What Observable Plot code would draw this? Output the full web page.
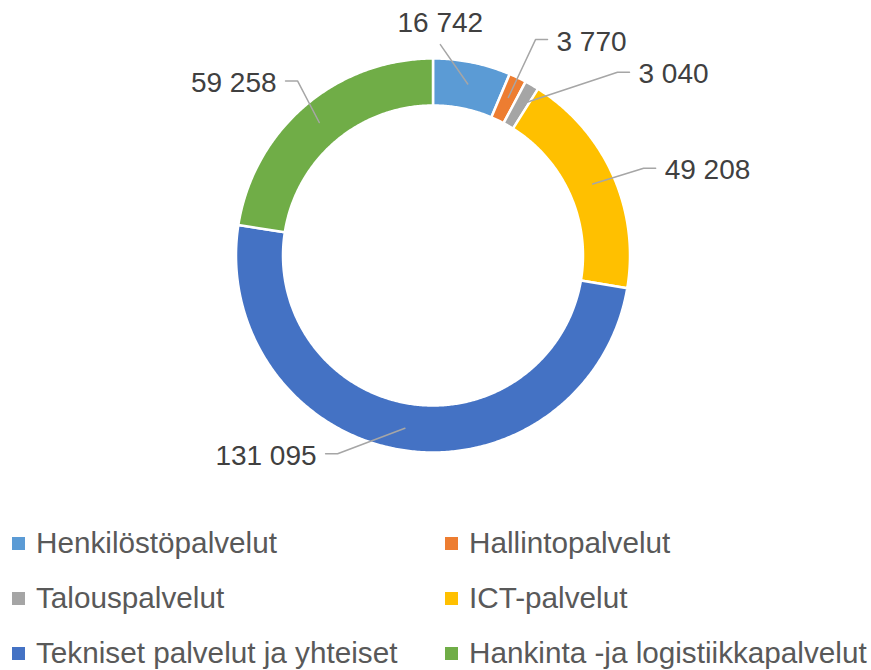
<!DOCTYPE html>
<html><head><meta charset="utf-8">
<script src="https://cdn.jsdelivr.net/npm/d3@7"></script>
<script src="https://cdn.jsdelivr.net/npm/@observablehq/plot@0.6"></script>
<style>
body{margin:0;background:#fff;font-family:"Liberation Sans",Arial,sans-serif;}
#chart svg{display:block}
.legend{display:grid;grid-template-columns:433px 426px;grid-auto-rows:55px;padding:15.5px 0 0 12px;}
.item{display:flex;align-items:center;font-size:29.7px;color:#595959;white-space:nowrap}
.sw{width:13px;height:13px;margin-right:11px;flex:none}
</style></head><body>
<div id="chart"></div><div class="legend" id="legend"></div>
<script>
// ---- data ----
const categories = ["Henkilöstöpalvelut", "Hallintopalvelut", "Talouspalvelut", "ICT-palvelut", "Tekniset palvelut ja yhteiset", "Hankinta -ja logistiikkapalvelut"];
const values = [16742, 3770, 3040, 49208, 131095, 59258];
const colors = ["#5B9BD5", "#ED7D31", "#A5A5A5", "#FFC000", "#4472C4", "#70AD47"];

// ---- layout ----
const W = 871, H = 500, CX = 432.5, CY = 255, R0 = 150, R1 = 197, RL = 175;
// label elbow placement (angle in degrees clockwise from top, radius px)
const labelAngle = [2, 25.4, 45.2, 67.5, 205.7, 322.2];
const labelRadius = [211, 239, 260, 228, 220, 221];
const labelSide = ["top", "right", "right", "right", "left", "left"];

const fmt = d3.formatLocale({thousands: " ", grouping: [3], decimal: ","}).format(",d");
const total = d3.sum(values);
const polar = (a, r) => [r * Math.sin(a * Math.PI / 180), -r * Math.cos(a * Math.PI / 180)];

let acc = 0;
const slices = categories.map((c, i) => {
  const a0 = acc / total * 360; acc += values[i]; const a1 = acc / total * 360;
  return {c, v: values[i], a0, a1, mid: (a0 + a1) / 2, i};
});

const ringPts = [];
slices.forEach(s => {
  const n = Math.max(2, Math.ceil((s.a1 - s.a0) / 0.5));
  for (let k = 0; k <= n; k++) { const [x, y] = polar(s.a0 + (s.a1 - s.a0) * k / n, R1); ringPts.push({c: s.c, x, y}); }
  for (let k = n; k >= 0; k--) { const [x, y] = polar(s.a0 + (s.a1 - s.a0) * k / n, R0); ringPts.push({c: s.c, x, y}); }
});

const leaderPts = [], labelPts = [];
slices.forEach(s => {
  const [sx, sy] = polar(s.mid, RL);
  const [ex, ey] = polar(labelAngle[s.i], labelRadius[s.i]);
  const side = labelSide[s.i];
  leaderPts.push({c: s.c, x: sx, y: sy}, {c: s.c, x: ex, y: ey});
  if (side === "top") {
    labelPts.push({side, x: ex, y: ey - 21.5, text: fmt(s.v)});
  } else {
    const dir = side === "right" ? 1 : -1;
    leaderPts.push({c: s.c, x: ex + dir * 12, y: ey});
    labelPts.push({side, x: ex + dir * 21, y: ey + 2, text: fmt(s.v)});
  }
});

const font = "'Liberation Sans', Arial, sans-serif";
const textOpts = (anchor) => ({x: "x", y: "y", text: "text", textAnchor: anchor, fontSize: 28, fill: "#404040", fontFamily: font});

const chart = Plot.plot({
  width: W, height: H, margin: 0,
  style: {background: "white", fontFamily: font},
  x: {domain: [-CX, W - CX], range: [0, W], axis: null},
  y: {domain: [-CY, H - CY], range: [0, H], axis: null},
  color: {domain: categories, range: colors},
  marks: [
    Plot.line(ringPts, {x: "x", y: "y", z: "c", fill: "c", stroke: "white", strokeWidth: 2.5, curve: "linear-closed"}),
    Plot.line(leaderPts, {x: "x", y: "y", z: "c", stroke: "#A6A6A6", strokeWidth: 1.5}),
    Plot.text(labelPts.filter(d => d.side === "top"), textOpts("middle")),
    Plot.text(labelPts.filter(d => d.side === "right"), textOpts("start")),
    Plot.text(labelPts.filter(d => d.side === "left"), textOpts("end"))
  ]
});
document.getElementById("chart").append(chart);

const leg = document.getElementById("legend");
categories.forEach((c, i) => {
  const it = document.createElement("div"); it.className = "item";
  const sw = document.createElement("span"); sw.className = "sw"; sw.style.background = colors[i];
  const t = document.createElement("span"); t.textContent = c;
  it.append(sw, t); leg.append(it);
});
</script>
</body></html>
